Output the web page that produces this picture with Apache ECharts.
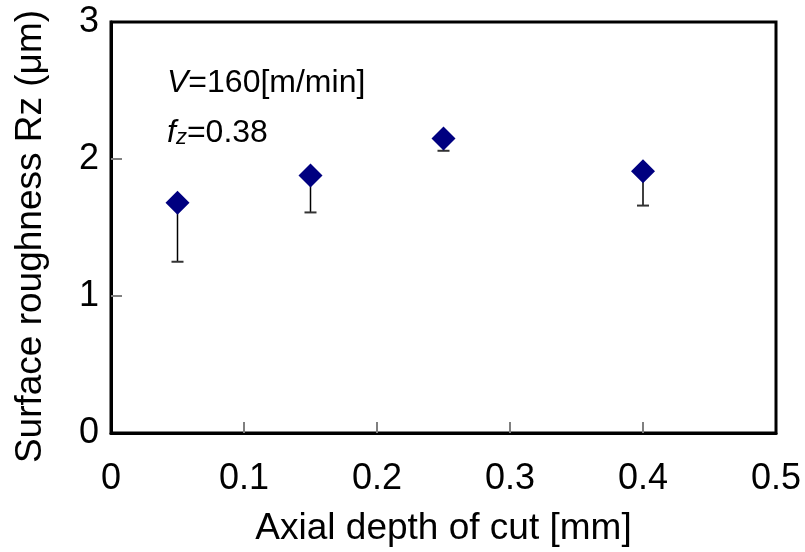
<!DOCTYPE html>
<html>
<head>
<meta charset="utf-8">
<script src="https://cdn.jsdelivr.net/npm/echarts@6/dist/echarts.min.js"></script>
<style>
  html, body { margin: 0; padding: 0; background: #fff; }
  #chart { width: 805px; height: 552px; }
</style>
</head>
<body>
<div id="chart"></div>
<script>
    // data
    var depth = [0.05, 0.15, 0.25, 0.4];      // axial depth of cut [mm]
    var rz = [1.68, 1.88, 2.15, 1.91];        // surface roughness Rz (um)
    var rzLow = [1.25, 1.61, 2.06, 1.66];     // lower end of error bar
    var xInnerTicks = [0.1, 0.2, 0.3, 0.4];   // ticks drawn inside the box
    var yInnerTicks = [1, 2];

    var font = "'Liberation Sans', Arial, sans-serif";
    var myChart = echarts.init(document.getElementById('chart'));

    var points = depth.map(function (d, i) { return [d, rz[i]]; });
    var bars = depth.map(function (d, i) { return [d, rz[i], rzLow[i]]; });

    var option = {
        backgroundColor: '#fff',
        animation: false,
        grid: {
            left: 111,
            top: 22,
            right: 29,
            bottom: 118,
            show: true,
            borderColor: '#000',
            borderWidth: 3
        },
        xAxis: {
            type: 'value',
            min: 0,
            max: 0.5,
            interval: 0.1,
            name: 'Axial depth of cut [mm]',
            nameLocation: 'middle',
            nameGap: 77,
            nameTextStyle: { fontFamily: font, fontSize: 37, color: '#000' },
            axisLine: { show: true, lineStyle: { color: '#000', width: 3 } },
            axisTick: { show: true, inside: true, length: 11, customValues: xInnerTicks, lineStyle: { color: '#808080', width: 2 } },
            splitLine: { show: false },
            axisLabel: { fontFamily: font, fontSize: 36, color: '#000', margin: 28 }
        },
        yAxis: {
            type: 'value',
            min: 0,
            max: 3,
            interval: 1,
            name: 'Surface roughness Rz (μm)',
            nameLocation: 'middle',
            nameGap: 62,
            nameTextStyle: { fontFamily: font, fontSize: 37, color: '#000', padding: [0, 18, 0, 0] },
            axisLine: { show: true, lineStyle: { color: '#000', width: 3 } },
            axisTick: { show: true, inside: true, length: 11, customValues: yInnerTicks, lineStyle: { color: '#808080', width: 2 } },
            splitLine: { show: false },
            axisLabel: { fontFamily: font, fontSize: 36, color: '#000', margin: 12 }
        },
        graphic: [{
            type: 'text',
            left: 167,
            top: 67,
            style: {
                text: '{i|V}{n|=160[m/min]}',
                rich: {
                    i: { fontFamily: font, fontSize: 32, fontStyle: 'italic', fill: '#000' },
                    n: { fontFamily: font, fontSize: 32, fill: '#000' }
                }
            }
        }, {
            type: 'text',
            left: 167,
            top: 117,
            style: {
                text: '{i|f}{s|z}{n|=0.38}',
                rich: {
                    i: { fontFamily: font, fontSize: 32, fontStyle: 'italic', fill: '#000', lineHeight: 35, verticalAlign: 'bottom' },
                    s: { fontFamily: font, fontSize: 22, fontStyle: 'italic', fill: '#000', lineHeight: 35, verticalAlign: 'bottom' },
                    n: { fontFamily: font, fontSize: 32, fill: '#000', lineHeight: 35, verticalAlign: 'bottom' }
                }
            }
        }],
        series: [{
            type: 'custom',
            z: 1,
            data: bars,
            renderItem: function (params, api) {
                var top = api.coord([api.value(0), api.value(1)]);
                var low = api.coord([api.value(0), api.value(2)]);
                var half = 6;
                return {
                    type: 'group',
                    children: [{
                        type: 'line',
                        shape: { x1: top[0], y1: top[1], x2: low[0], y2: low[1] },
                        style: { stroke: '#000', lineWidth: 1.5 }
                    }, {
                        type: 'line',
                        shape: { x1: low[0] - half, y1: low[1], x2: low[0] + half, y2: low[1] },
                        style: { stroke: '#333', lineWidth: 2 }
                    }]
                };
            }
        }, {
            type: 'scatter',
            z: 2,
            symbol: 'diamond',
            symbolSize: 24,
            itemStyle: { color: '#000080', opacity: 1 },
            data: points
        }]
    };

    myChart.setOption(option);
</script>
</body>
</html>
